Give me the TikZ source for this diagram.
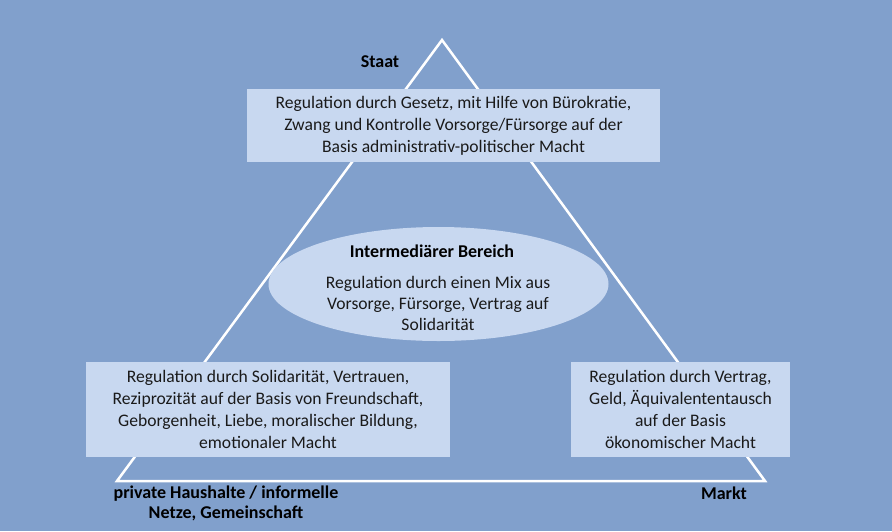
\documentclass[tikz,border=0pt]{standalone}
\usepackage{fontspec}
\setmainfont{Carlito}
\usetikzlibrary{shapes.geometric}

\definecolor{bgblue}{RGB}{129,160,204}
\definecolor{boxblue}{RGB}{200,216,240}
\definecolor{txt}{RGB}{26,26,26}

\begin{document}
\begin{tikzpicture}[
    x=1pt, y=-1pt,
    font=\fontsize{17.6}{22}\selectfont,
    box/.style={fill=boxblue,inner sep=0pt,align=center,text=txt},
    corner/.style={font=\fontsize{18}{20}\selectfont\bfseries,align=center,text=black},
    side/.style={white,line width=2.5pt}
]

% Hintergrund
\fill[bgblue] (0,0) rectangle (892,531);
\useasboundingbox (0,0) rectangle (892,531);

% Dreieck
\coordinate (T) at (442,40);
\coordinate (R) at (765,481);
\coordinate (L) at (117,481);
\draw[side] (T) -- (R) -- (L) -- cycle;

% Staat
\node[box,minimum width=413pt,minimum height=73pt] (St) at (453.5,125.5)
  {Regulation durch Gesetz, mit Hilfe von Bürokratie,\\
   Zwang und Kontrolle Vorsorge/Fürsorge auf der\\
   Basis administrativ-politischer Macht};
\node[corner] (StL) at (380,62) {Staat};

% Intermediaerer Bereich
\node[box,ellipse,minimum width=340pt,minimum height=114pt] (IB) at (438.5,284) {};
\node[corner] (IBT) at (432,251) {Intermediärer Bereich};
\node[text=txt,align=center,font=\fontsize{17.6}{21}\selectfont] (IBX) at (438,303)
  {Regulation durch einen Mix aus\\
   Vorsorge, Fürsorge, Vertrag auf\\
   Solidarität};

% private Haushalte
\node[box,minimum width=364pt,minimum height=95pt] (PH) at (268,409.5)
  {Regulation durch Solidarität, Vertrauen,\\
   Reziprozität auf der Basis von Freundschaft,\\
   Geborgenheit, Liebe, moralischer Bildung,\\
   emotionaler Macht};
\node[corner] (PHL) at (226,503.5) {private Haushalte / informelle\\Netze, Gemeinschaft};

% Markt
\node[box,minimum width=219pt,minimum height=95pt] (Mk) at (680.5,409.5)
  {Regulation durch Vertrag,\\
   Geld, Äquivalententausch\\
   auf der Basis\\
   ökonomischer Macht};
\node[corner] (MkL) at (724,493) {Markt};

\end{tikzpicture}
\end{document}
